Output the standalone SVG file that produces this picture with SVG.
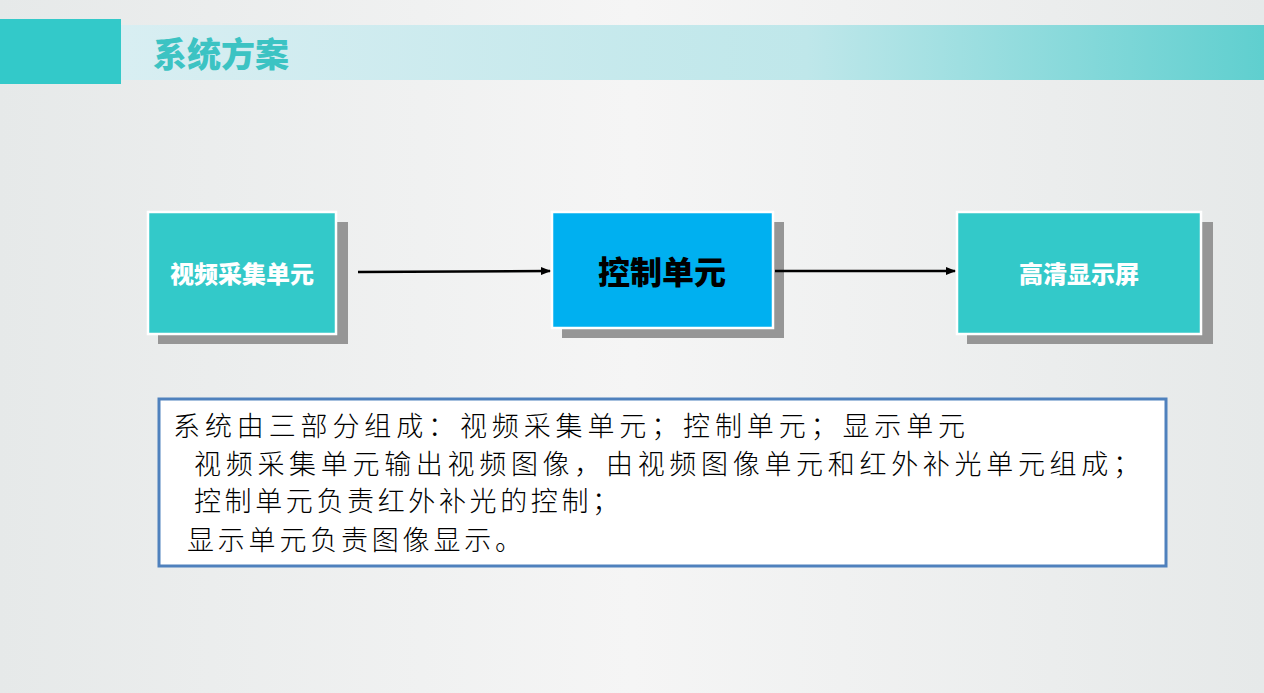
<svg xmlns="http://www.w3.org/2000/svg" width="1264" height="693" viewBox="0 0 1264 693">
<defs>
<linearGradient id="bg" x1="0" y1="0" x2="1" y2="0"><stop offset="0" stop-color="#e6e9e9"/><stop offset="0.5" stop-color="#f5f5f5"/><stop offset="1" stop-color="#e6e9e9"/></linearGradient>
<linearGradient id="ban" x1="0" y1="0" x2="1" y2="0"><stop offset="0" stop-color="#d8eef2"/><stop offset="0.6" stop-color="#bfe7ea"/><stop offset="1" stop-color="#5fcfcf"/></linearGradient>
<marker id="ar" markerWidth="10" markerHeight="8" refX="9" refY="4" orient="auto" markerUnits="userSpaceOnUse"><path d="M0,0 L10,4 L0,8 z" fill="#000"/></marker>
</defs>
<style>
.sh{fill:#969696}
.nb{stroke:#fff;stroke-width:2.5}
.nt{font-family:"Noto Sans CJK SC",sans-serif;font-weight:900;fill:#fff;text-anchor:middle}
.bt{font-family:"Noto Sans CJK SC",serif;font-size:27px;font-weight:300;fill:#000}
</style>
<rect width="1264" height="693" fill="url(#bg)"/>
<rect x="121" y="25" width="1143" height="55" fill="url(#ban)"/>
<rect x="0" y="19" width="121" height="65" fill="#33c9c9"/>
<text x="153" y="67" font-family="Noto Sans CJK SC,sans-serif" font-weight="900" font-size="34" fill="#3cc3c3">系统方案</text>
<g id="n1"><rect x="158" y="222" width="190" height="122" class="sh"/><rect x="148" y="212" width="188" height="122" fill="#33c9c9" class="nb"/><text x="242" y="283" class="nt" font-size="24">视频采集单元</text></g>
<g id="n2"><rect x="562" y="222" width="222" height="116" class="sh"/><rect x="552" y="212" width="221" height="116" fill="#00b0f0" class="nb"/><text x="662" y="284" class="nt" font-size="32" style="fill:#000">控制单元</text></g>
<g id="n3"><rect x="967" y="222" width="246" height="122" class="sh"/><rect x="957" y="212" width="244" height="122" fill="#33c9c9" class="nb"/><text x="1079" y="283" class="nt" font-size="24">高清显示屏</text></g>
<g id="connectors" stroke="#000" stroke-width="2.5" fill="none">
<line x1="358" y1="272" x2="550" y2="271" marker-end="url(#ar)"/>
<line x1="775" y1="271" x2="955" y2="271" marker-end="url(#ar)"/>
</g>
<g id="desc">
<rect x="159" y="399" width="1007" height="167" fill="#fff" stroke="#4f81bd" stroke-width="3"/>
<text x="173" y="436" class="bt" textLength="792">系统由三部分组成：视频采集单元；控制单元；显示单元</text>
<text x="194" y="474" class="bt" textLength="946">视频采集单元输出视频图像，由视频图像单元和红外补光单元组成；</text>
<text x="194" y="511" class="bt" textLength="425">控制单元负责红外补光的控制；</text>
<text x="187" y="550" class="bt" textLength="335">显示单元负责图像显示。</text>
</g>
</svg>
